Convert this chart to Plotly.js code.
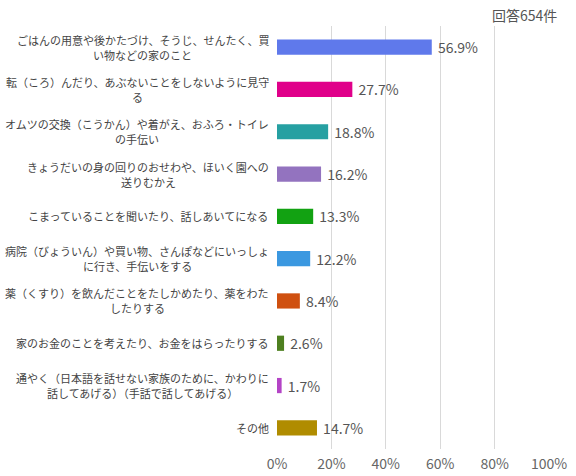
<!DOCTYPE html>
<html>
<head>
<meta charset="utf-8">
<script src="https://cdn.plot.ly/plotly-3.0.1.min.js"></script>
<style>
  html, body { margin: 0; padding: 0; background: #fff; }
  #chart { width: 576px; height: 476px; }
</style>
</head>
<body>
<div id="chart"></div>
<script>
// 項目（上から順）
const categories = [
    "ごはんの用意や後かたづけ、そうじ、せんたく、買<br>い物などの家のこと",
    "転（ころ）んだり、あぶないことをしないように見守<br>る",
    "オムツの交換（こうかん）や着がえ、おふろ・トイレ<br>の手伝い",
    "きょうだいの身の回りのおせわや、ほいく園への<br>送りむかえ",
    "こまっていることを聞いたり、話しあいてになる",
    "病院（びょういん）や買い物、さんぽなどにいっしょ<br>に行き、手伝いをする",
    "薬（くすり）を飲んだことをたしかめたり、薬をわた<br>したりする",
    "家のお金のことを考えたり、お金をはらったりする",
    "通やく（日本語を話せない家族のために、かわりに<br>話してあげる）（手話で話してあげる）",
    "その他"
];
const values = [56.9, 27.7, 18.8, 16.2, 13.3, 12.2, 8.4, 2.6, 1.7, 14.7];
const barColors = ["#5f79eb", "#e0008a", "#26a0a2", "#9373bf", "#12a212",
                   "#3b98e0", "#cf5010", "#4e8020", "#b444c6", "#b08c00"];
const tickVals = [0, 20, 40, 60, 80, 100];
const tickText = tickVals.map(v => v + "%");
const totalText = "回答654件";

const font = '"Noto Sans CJK JP", "Noto Sans", sans-serif';
const labelSize = 11;
const ids = categories.map((c, i) => "c" + i);

const trace = {
    type: "bar",
    orientation: "h",
    x: values,
    y: ids,
    width: 0.36,
    marker: { color: barColors },
    text: values.map(v => "\u00a0" + v.toFixed(1) + "%"),
    textposition: "outside",
    constraintext: "none",
    cliponaxis: false,
    textfont: { family: font, size: 14, color: "#555" },
    hoverinfo: "none"
};

// 文字幅を測る（ブロックの中央をそろえるため）
const ctx = document.createElement("canvas").getContext("2d");
ctx.font = labelSize + "px " + font;
const textWidth = s => ctx.measureText(s).width;

// 項目名：1行ずつ注釈にして中央揃え
const annotations = [];
categories.forEach((c, i) => {
    const lines = c.split("<br>");
    const lineGap = 15;
    const blockW = Math.max(...lines.map(textWidth));
    const top = -lineGap * (lines.length - 1) / 2;
    lines.forEach((ln, k) => {
        annotations.push({
            xref: "paper", yref: "y",
            x: 0, y: ids[i],
            xanchor: "center", yanchor: "middle",
            xshift: -8 - blockW / 2,
            yshift: -(top + k * lineGap),
            text: ln,
            showarrow: false,
            font: { family: font, size: labelSize, color: "#444" }
        });
    });
});

// 回答件数（右上）
annotations.push({
    xref: "paper", yref: "paper",
    x: 1, y: 1,
    xanchor: "right", yanchor: "bottom",
    xshift: 10, yshift: -1,
    text: totalText,
    showarrow: false,
    font: { family: font, size: 14, color: "#555" }
});

const layout = {
    width: 576, height: 476,
    paper_bgcolor: "#fff", plot_bgcolor: "#fff",
    margin: { l: 277, r: 27, t: 26, b: 27 },
    showlegend: false,
    xaxis: {
        range: [0, 100],
        tickvals: tickVals, ticktext: tickText,
        showgrid: true, gridcolor: "#d9d9d9", gridwidth: 1,
        zeroline: false, showline: false,
        ticks: "", ticklabelstandoff: 5,
        tickfont: { family: font, size: 14, color: "#666" },
        fixedrange: true
    },
    yaxis: {
        type: "category",
        categoryorder: "array", categoryarray: ids,
        autorange: "reversed",
        showticklabels: false, showgrid: false,
        zeroline: false, showline: false, ticks: "",
        fixedrange: true
    },
    annotations: annotations
};

Plotly.newPlot("chart", [trace], layout, { displayModeBar: false, staticPlot: true });
</script>
</body>
</html>
